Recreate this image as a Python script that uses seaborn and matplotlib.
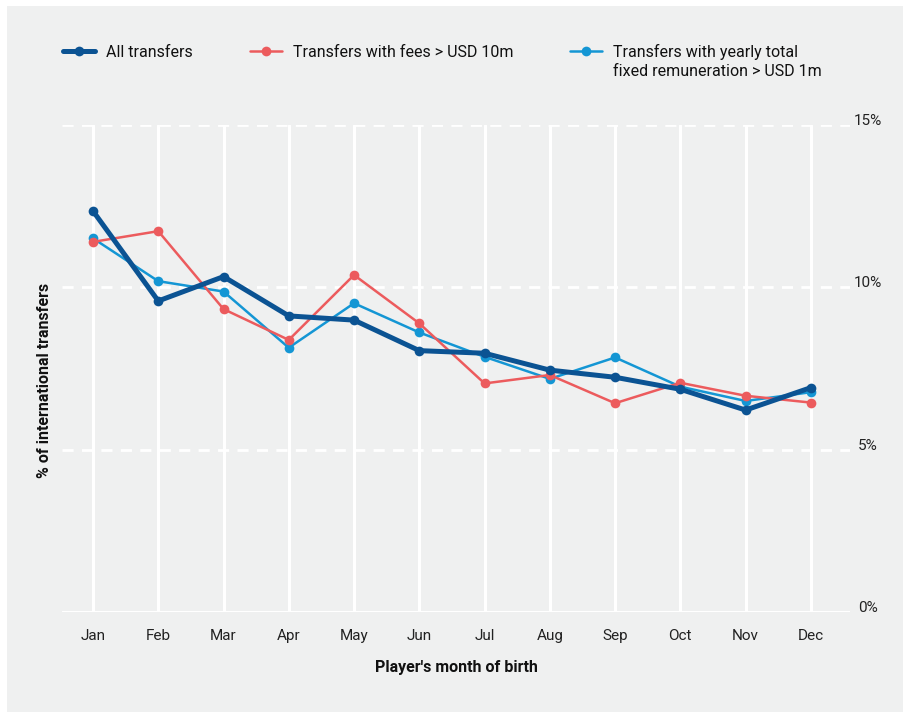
import pandas as pd
import seaborn as sns
import matplotlib.pyplot as plt
from matplotlib.patches import Rectangle
from matplotlib.transforms import blended_transform_factory, offset_copy

months = ["Jan", "Feb", "Mar", "Apr", "May", "Jun", "Jul", "Aug", "Sep", "Oct", "Nov", "Dec"]
all_transfers = [12.35, 9.58, 10.33, 9.12, 8.99, 8.05, 7.97, 7.45, 7.23, 6.86, 6.22, 6.91]
fees_10m = [11.40, 11.73, 9.33, 8.38, 10.38, 8.89, 7.04, 7.30, 6.43, 7.06, 6.66, 6.45]
remun_1m = [11.51, 10.19, 9.87, 8.14, 9.51, 8.61, 7.86, 7.18, 7.84, 6.94, 6.50, 6.77]
y_ticks = [0, 5, 10, 15]
y_tick_labels = ["0%", "5%", "10%", "15%"]

c_all = "#0b5393"
c_fee = "#ec5b5d"
c_rem = "#1496d4"
bg = "#eff0f0"

df = pd.DataFrame({"month": months, "all": all_transfers, "fee": fees_10m, "rem": remun_1m})

sns.set_style("white")
plt.rcParams["font.family"] = ["Roboto", "DejaVu Sans"]

fig = plt.figure(figsize=(9.04, 7.16), dpi=100, facecolor="white")
fig.patches.append(Rectangle((7 / 904, 1 - 712 / 716), 897 / 904, 706 / 716,
                             transform=fig.transFigure, facecolor=bg, edgecolor="none", zorder=-5))
ax = fig.add_axes([62 / 904, 1 - 612 / 716, (850 - 62) / 904, (612 - 125) / 716])
ax.set_facecolor(bg)

sns.lineplot(data=df, x="month", y="rem", ax=ax, color=c_rem, lw=1.8, marker="o",
             markersize=7, markeredgewidth=0, label="Transfers with yearly total", zorder=3)
sns.lineplot(data=df, x="month", y="fee", ax=ax, color=c_fee, lw=1.8, marker="o",
             markersize=7, markeredgewidth=0, label="Transfers with fees > USD 10m", zorder=3)
sns.lineplot(data=df, x="month", y="all", ax=ax, color=c_all, lw=3.6, marker="o",
             markersize=7, markeredgewidth=0, label="All transfers", zorder=4)

ax.set_xlim(-0.475, 11.6)
ax.set_ylim(0, 15)
for s in ax.spines.values():
    s.set_visible(False)

ax.set_yticks(y_ticks)
ax.set_yticklabels([])
ax.tick_params(axis="y", length=0)
ax.tick_params(axis="x", length=0, pad=12.5, labelsize=11, labelcolor="#222222")
ax.grid(axis="x", color="white", lw=2.2, zorder=1)
ax.grid(axis="y", color="white", lw=2, ls=(0, (4, 3)), zorder=1)
ax.set_axisbelow(True)
ax.axhline(0, color="white", lw=2.2, zorder=1)

tr = offset_copy(blended_transform_factory(fig.transFigure, ax.transData), fig=fig, x=0, y=4, units="dots")
for v, lab in zip(y_ticks, y_tick_labels):
    ax.text(868 / 904, v, lab, transform=tr, ha="center", va="center", fontsize=11, color="#222222")

ax.set_xlabel("Player's month of birth", fontsize=11.5, fontweight="bold", labelpad=12, color="#111111")
ax.set_ylabel("% of international transfers", fontsize=11.5, fontweight="bold", color="#111111")
ax.yaxis.set_label_coords(-(62 - 52) / 788, (612 - 380) / 487)

handles, labels = ax.get_legend_handles_labels()
order = [2, 1, 0]
ax.get_legend().remove()
leg = fig.legend([handles[i] for i in order], [labels[i] for i in order], loc="upper left",
                 bbox_to_anchor=(63 / 904, 1 - 44 / 716), ncol=3, frameon=False, fontsize=11.5,
                 handlelength=2.0, handletextpad=0.7, columnspacing=3.55, borderpad=0, borderaxespad=0,
                 labelcolor="#111111")

# second line of the third legend label
fig.canvas.draw()
bb = leg.get_texts()[2].get_window_extent()
fig.text(bb.x0 / 904, (bb.y0 - 19) / 716, "fixed remuneration > USD 1m", fontsize=11.5,
         color="#111111", ha="left", va="bottom")

fig.savefig("out.png", dpi=100, facecolor="white")
